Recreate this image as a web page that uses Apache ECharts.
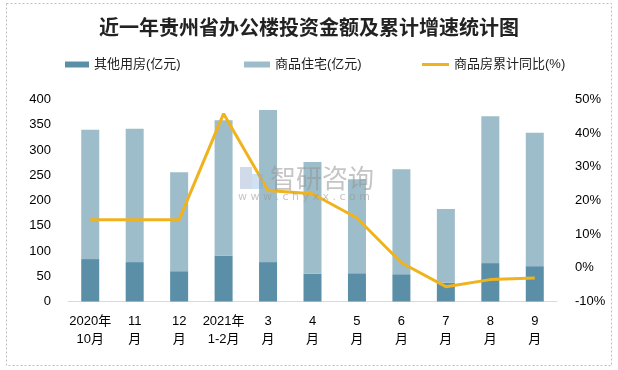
<!DOCTYPE html>
<html><head><meta charset="utf-8">
<script src="https://cdn.jsdelivr.net/npm/echarts@6/dist/echarts.min.js"></script>
<style>html,body{margin:0;padding:0;background:#fff}#c{width:618px;height:370px}</style>
</head><body><div id="c"></div>
<script>
var categories = ['2020年\n10月','11\n月','12\n月','2021年\n1-2月','3\n月','4\n月','5\n月','6\n月','7\n月','8\n月','9\n月'];
var otherUse = [84, 78, 60, 91, 78, 55, 56, 54, 37, 76, 70];
var residential = [256, 264, 196, 268, 301, 221, 186, 208, 146, 291, 264];
var cumGrowth = [14.3, 14.3, 14.3, 45.8, 23, 22, 14.8, 1.5, -5.6, -3.5, -3.0];
var leftTicks = {min: 0, max: 400, interval: 50};
var rightTicks = {min: -10, max: 50, interval: 10};

var font = '"Liberation Sans","Noto Sans CJK SC",sans-serif';
var chart = echarts.init(document.getElementById('c'), null, {renderer: 'canvas'});
chart.setOption({
  animation: false,
  title: {
    text: '近一年贵州省办公楼投资金额及累计增速统计图',
    left: 'center', top: 12,
    textStyle: {fontSize: 20, fontWeight: 'bold', color: '#222', fontFamily: '"Noto Sans CJK SC",sans-serif'}
  },
  legend: [
    {data: ['其他用房(亿元)'], left: 60, top: 53, itemWidth: 24, itemHeight: 6, icon: 'rect', itemGap: 4,
     textStyle: {fontSize: 13, color: '#222', fontFamily: font}},
    {data: ['商品住宅(亿元)'], left: 239, top: 53, itemWidth: 26, itemHeight: 6, icon: 'rect',
     textStyle: {fontSize: 13, color: '#222', fontFamily: font}},
    {data: ['商品房累计同比(%)'], left: 417, top: 53, itemWidth: 27, itemHeight: 3, icon: 'rect',
     textStyle: {fontSize: 13, color: '#222', fontFamily: font}}
  ],
  grid: {left: 68, right: 61, top: 99.5, bottom: 68.5},
  xAxis: {
    type: 'category', data: categories,
    axisLine: {lineStyle: {color: '#d9d9d9', width: 1}},
    axisTick: {show: false},
    axisLabel: {fontSize: 13, color: '#000', lineHeight: 18, margin: 11, interval: 0, fontFamily: font}
  },
  yAxis: [
    {type: 'value', min: leftTicks.min, max: leftTicks.max, interval: leftTicks.interval,
     splitLine: {show: false}, axisLine: {show: false}, axisTick: {show: false},
     axisLabel: {fontSize: 13, color: '#000', margin: 17, fontFamily: font}},
    {type: 'value', min: rightTicks.min, max: rightTicks.max, interval: rightTicks.interval,
     splitLine: {show: false}, axisLine: {show: false}, axisTick: {show: false},
     axisLabel: {fontSize: 13, color: '#000', margin: 18, formatter: '{value}%', fontFamily: font}}
  ],
  series: [
    {name: '其他用房(亿元)', type: 'bar', stack: 'a', data: otherUse, barWidth: 18,
     itemStyle: {color: '#5b8fa7'}},
    {name: '商品住宅(亿元)', type: 'bar', stack: 'a', data: residential, barWidth: 18,
     itemStyle: {color: '#9ebdca'}},
    {name: '商品房累计同比(%)', type: 'line', yAxisIndex: 1, data: cumGrowth,
     showSymbol: false, symbol: 'none', lineStyle: {color: '#efb31e', width: 3}, itemStyle: {color: '#efb31e'}, z: 5}
  ],
  graphic: [
    {type: 'rect', shape: {x: 6.5, y: 3.5, width: 605, height: 362}, z: -1,
     style: {fill: 'none', stroke: '#bfbfbf', lineWidth: 1, lineDash: [2, 2]}},
    {type: 'rect', shape: {x: 240, y: 167, width: 12, height: 22}, z: 10,
     style: {fill: 'rgba(120,150,190,0.35)'}},
    {type: 'rect', shape: {x: 252, y: 174, width: 11, height: 15}, z: 10,
     style: {fill: 'rgba(120,170,220,0.35)'}},
    {type: 'text', x: 270, y: 178, z: 10,
     style: {text: '智研咨询', fontSize: 26, fill: 'rgba(150,150,150,0.55)', verticalAlign: 'middle',
             fontFamily: '"Noto Sans CJK SC",sans-serif'}},
    {type: 'text', x: 238, y: 197, z: 10,
     style: {text: 'w w w . c h y x x . c o m', fontSize: 11, fill: 'rgba(150,150,150,0.55)', verticalAlign: 'middle',
             fontFamily: '"DejaVu Sans",sans-serif'}}
  ]
});
</script></body></html>
